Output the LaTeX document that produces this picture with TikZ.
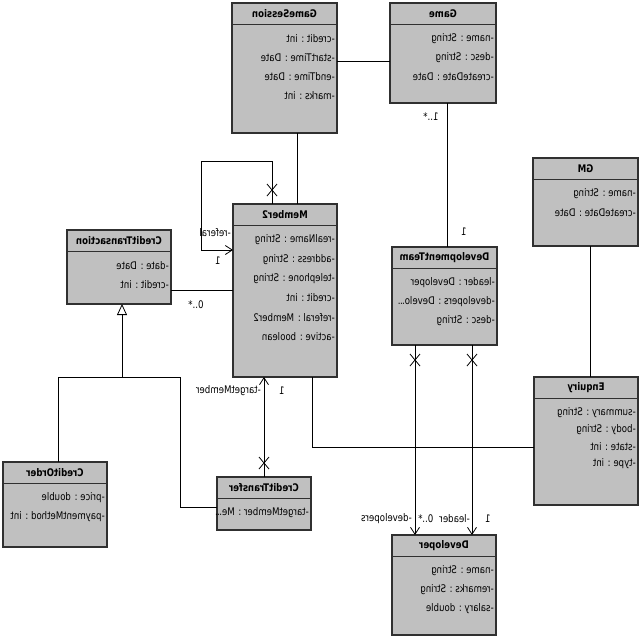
\documentclass[tikz,border=0pt]{standalone}
\usepackage{fontspec}
\setmainfont{DejaVu Sans}[FakeStretch=0.82]
\usepackage{graphicx}
\usetikzlibrary{arrows.meta}
\definecolor{boxfill}{HTML}{C0C0C0}
\definecolor{boxline}{HTML}{303030}
\newcommand\tdots{.\kern-0.6pt.\kern-0.6pt.}
\tikzset{
  clsbox/.style={draw=boxline, line width=1.1pt, fill=boxfill, anchor=north west, inner sep=0pt, outer sep=0pt},
  clsline/.style={draw=boxline, line width=0.9pt},
  clshdr/.style={font=\fontsize{10.5}{12}\selectfont\bfseries, inner sep=0pt},
  clsattr/.style={font=\fontsize{10.5}{12}\selectfont, anchor=east, inner sep=0pt},
  lbl/.style={font=\fontsize{10.5}{12}\selectfont, inner sep=0pt},
  conn/.style={draw=black, line width=0.8pt},
  openarrow/.style={conn, -{Straight Barb[length=7pt,width=9pt,line width=0.8pt]}},
  genarrow/.style={conn, -{Triangle[open,length=11pt,width=10pt,line width=0.8pt,fill=white]}},
  xm/.style={draw=black, line width=0.8pt}
}
\newcommand\hdrh{21}
\newcommand\mkcls[8]{%
  \node[clsbox, minimum width=#4, minimum height=#5] (#1) at (#2,#3) {};
  \draw[clsline] ([yshift=-\hdrh pt]#1.north west) -- ([yshift=-\hdrh pt]#1.north east);
  \node[clshdr] (#1-t) at ([yshift=-10.5pt]#1.north) {\reflectbox{#6}};
  \foreach \a [count=\i] in {#8} {
    \node[clsattr] (#1-a\i) at ([xshift=-2pt,yshift={-(\hdrh+15+(\i-1)*#7)}]#1.north east) {\reflectbox{\a}};
  }%
}
\newcommand\xcross[2]{\draw[xm] (#1-5,#2-6) -- (#1+5,#2+6) (#1-5,#2+6) -- (#1+5,#2-6);}
\begin{document}
\begin{tikzpicture}[x=1pt,y=-1pt]
\useasboundingbox[fill=white] (0,0) rectangle (640,640);
% classes
\mkcls{gs}{232}{3}{105}{130}{GameSession}{19}{-credit : int,-startTime : Date,-endTime : Date,-marks : int}
\mkcls{gm}{390}{3}{106}{100}{Game}{19}{-name : String,-desc : String,-createDate : Date}
\mkcls{m2}{233}{204}{104}{173}{Member2}{19.3}{-realName : String,-address : String,-telephone : String,-credit : int,-referal : Member2,-active : boolean}
\mkcls{ct}{67}{230}{104}{74}{CreditTransaction}{19}{-date : Date,-credit : int}
\mkcls{co}{3}{462}{104}{85}{CreditOrder}{19}{-price : double,-paymentMethod : int}
\mkcls{ctr}{217}{477}{94}{53}{CreditTransfer}{19}{-targetMember : Me\tdots}
\mkcls{dt}{392}{247}{105}{98}{DevelopmentTeam}{19}{-leader : Developer,-developers : Develo\tdots,-desc : String}
\mkcls{g}{533}{158}{105}{88}{GM}{18.5}{-name : String,-createDate : Date}
\mkcls{eq}{534}{377}{104}{128}{Enquiry}{17}{-summary : String,-body : String,-state : int,-type : int}
\mkcls{dv}{392}{535}{104}{100}{Developer}{19}{-name : String,-remarks : String,-salary : double}
% connectors
\draw[conn] (gs.east |- 0,61) -- (gm.west |- 0,61);
\draw[conn] (297,0 |- gs.south) -- (297,0 |- m2.north);
\draw[openarrow] (272,0 |- m2.north) -- (272,161) -- (201,161) -- (201,250) -- (m2.west |- 0,250);
\xcross{272}{190}
\draw[conn] (ct.east |- 0,290) -- (m2.west |- 0,290);
\draw[conn] (58,0 |- co.north) -- (58,377) -- (180,377) -- (180,507) -- (ctr.west |- 0,507);
\draw[genarrow] (122,377) -- (122,0 |- ct.south);
\draw[openarrow] (264,0 |- ctr.north) -- (264,0 |- m2.south);
\xcross{264}{463}
\draw[conn] (312,0 |- m2.south) -- (312,447) -- (eq.west |- 0,447);
\draw[conn] (447,0 |- gm.south) -- (447,0 |- dt.north);
\draw[conn] (590,0 |- g.south) -- (590,0 |- eq.north);
\draw[openarrow] (415,0 |- dt.south) -- (415,0 |- dv.north);
\draw[openarrow] (472,0 |- dt.south) -- (472,0 |- dv.north);
\xcross{415}{360}
\xcross{472}{360}
% labels
\node[lbl, anchor=east] (l1) at (231,233) {\reflectbox{-referal}};
\node[lbl] (l2) at (218,261) {\reflectbox{1}};
\node[lbl] (l3) at (196,305) {\reflectbox{0..*}};
\node[lbl, anchor=east] (l4) at (261,391) {\reflectbox{-targetMember}};
\node[lbl] (l5) at (282,391) {\reflectbox{1}};
\node[lbl] (l6) at (431,117) {\reflectbox{1..*}};
\node[lbl] (l7) at (464,232) {\reflectbox{1}};
\node[lbl, anchor=east] (l8) at (412,519) {\reflectbox{-developers}};
\node[lbl, anchor=west] (l9) at (418,519) {\reflectbox{0..*}};
\node[lbl, anchor=east] (l10) at (470,519) {\reflectbox{-leader}};
\node[lbl] (l11) at (488,519) {\reflectbox{1}};
\end{tikzpicture}
\end{document}
